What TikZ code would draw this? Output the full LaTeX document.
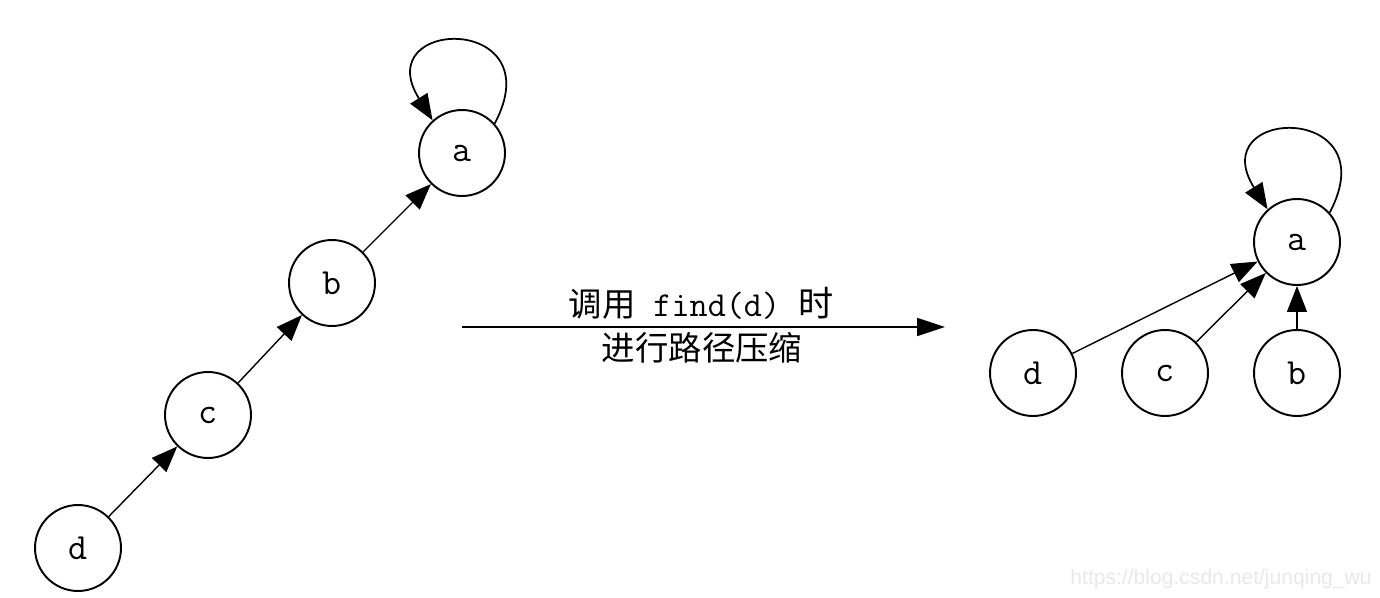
\documentclass[tikz,border=0pt]{standalone}
\usepackage{fontspec}
\newfontfamily\cjk{Noto Sans CJK SC}
\newfontfamily\wmark{Liberation Sans}
\usetikzlibrary{arrows.meta}
\definecolor{wmgray}{RGB}{232,232,232}

\begin{document}
\begin{tikzpicture}[x=0.02cm, y=-0.02cm,
    vertex/.style={draw, circle, line width=1.1pt, minimum size=1.72cm, inner sep=0pt,
      font=\ttfamily\fontsize{21}{21}\selectfont},
    edge/.style={line width=0.8pt, -{Triangle[length=0.52cm, width=0.4cm]}},
    selfloop/.style={edge, line width=1pt},
    caption/.style={inner sep=0pt, font=\cjk\fontsize{19}{19}\selectfont}]
    \useasboundingbox (0,0) rectangle (1380,598);

    % chain before find(d)
    \node[vertex] (a) at (462,153) {a};
    \node[vertex] (b) at (332,283) {b};
    \node[vertex] (c) at (208,415) {c};
    \node[vertex] (d) at (78,548) {d};
    \draw[edge] (d) -- (c);
    \draw[edge] (c) -- (b);
    \draw[edge] (b) -- (a);
    \draw[selfloop] (a.42) .. controls +(-62:125) and +(-122:122) .. (a.132);

    % find(d) with path compression
    \coordinate (from) at (462,327);
    \coordinate (to) at (945,327);
    \draw[line width=1pt, -{Triangle[length=0.56cm, width=0.36cm]}] (from) -- (to);
    \node[caption] (upper) at (701,303) {调用\ttfamily\fontsize{20}{20}\selectfont{} find(d) \cjk 时};
    \node[caption] (lower) at (702,348) {进行路径压缩};

    % tree after find(d)
    \node[vertex] (a2) at (1297,242) {a};
    \node[vertex] (d2) at (1033,373) {d};
    \node[vertex] (c2) at (1165,373) {c};
    \node[vertex] (b2) at (1297,373) {b};
    \draw[edge] (d2) -- (a2);
    \draw[edge] (c2) -- (a2);
    \draw[edge] (b2) -- (a2);
    \draw[selfloop] (a2.42) .. controls +(-62:125) and +(-122:122) .. (a2.132);

    \node[anchor=east, inner sep=0pt, text=wmgray, font=\wmark\fontsize{12}{12}\selectfont]
      (mark) at (1372,579) {https://blog.csdn.net/junqing\_wu};
\end{tikzpicture}
\end{document}
